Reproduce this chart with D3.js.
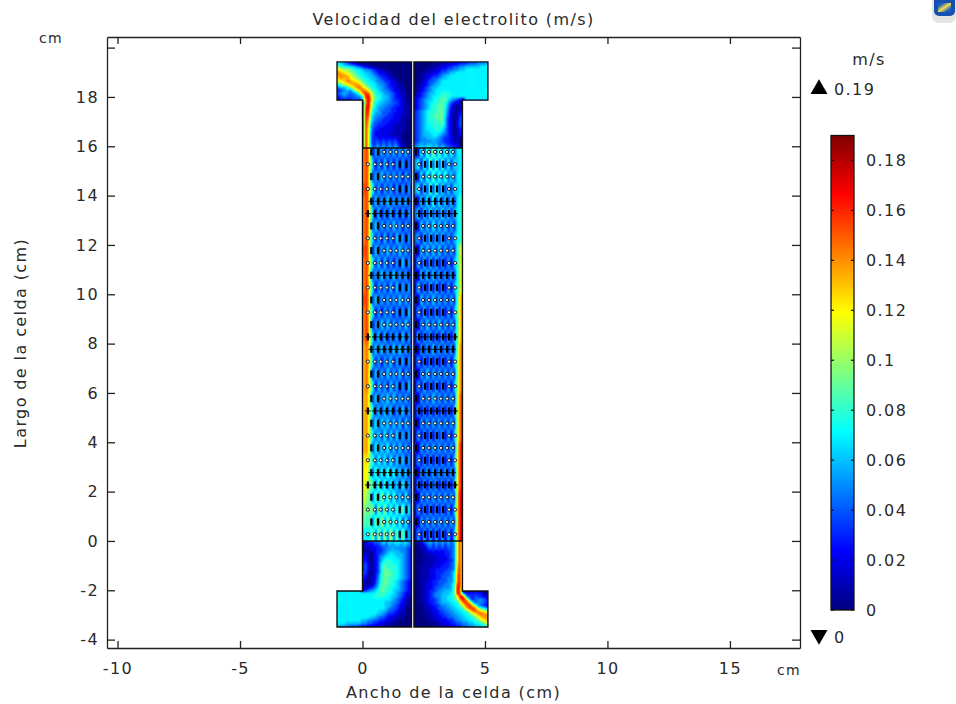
<!DOCTYPE html>
<html>
<head>
<meta charset="utf-8">
<script src="https://cdn.jsdelivr.net/npm/d3@7"></script>
<style>
  html, body { margin: 0; padding: 0; background: #fff; }
  svg { display: block; }
  text { font-family: "DejaVu Sans", sans-serif; fill: #2a2a2a; }
</style>
</head>
<body>
<div id="chart"></div>
<script>
// velocity cells: one char per cell, base 20, in hundredths of m/s
const topLeftField = [
  '76543 21000 00000 00000 00000',
  '98776 65432 11000 00000 00000',
  'cbaa9 87765 54321 10000 00000',
  'edcba 98776 65432 21100 00000',
  'eeedc a9877 66543 32110 00000',
  'dedec ba987 76654 33211 00000',
  'bcdee dcb98 77655 43321 10000',
  '89bcd eedb9 87765 54322 11000',
  '5668a cefdb 98766 54332 11000',
  '34565 8bdfe c9876 55432 21100',
  '45654 569eg fb977 65543 21100',
  '34544 4558g hc987 66543 22100',
  '23333 4446e hd987 66543 32100',
  '00000 0000e hc876 65544 32110',
  '00000 0000f hb866 55443 32110',
  '00000 0000g ha765 54433 22110',
  '00000 0000g g9665 44433 22110',
  '00000 0000g g8655 44332 22110',
  '00000 0000g f7554 43332 21110',
  '00000 0000g e7544 33322 21100',
  '00000 0000g d6443 33222 11100',
  '00000 0000g d5433 32221 11100',
  '00000 0000g c5332 22221 11100',
  '00000 0000g c4322 22211 11000',
  '00000 0000g c4322 22211 11000',
  '00000 0000g c4332 32323 11000',
  '00000 0000g c4343 43434 21000',
  '00000 0000g c4353 53535 31100',
  '00000 0000g c5464 64646 42100'
];

const topRightField = [
  '00000 00011 11222 33344 45556',
  '00000 01112 23344 55666 66777',
  '00001 11223 34455 66777 77777',
  '00011 12234 45667 77777 77777',
  '00112 23345 66777 77777 77777',
  '00112 34456 67777 77777 77777',
  '00123 44567 77777 77777 77777',
  '01123 45667 77777 77777 77777',
  '01234 56677 77777 77777 77777',
  '01234 56777 77777 77777 77778',
  '12345 66778 88777 77777 77777',
  '12345 67788 88777 77777 77777',
  '23456 67889 97654 32777 77777',
  '23456 77889 86432 11000 00000',
  '23456 78899 85311 12000 00000',
  '23456 78899 75210 12000 00000',
  '34567 88899 74211 23000 00000',
  '34567 88999 74201 33000 00000',
  '34567 88999 63201 43000 00000',
  '34567 88899 63202 42000 00000',
  '34567 88889 63202 43000 00000',
  '34567 78888 63202 42000 00000',
  '34567 77887 53201 32000 00000',
  '34566 77776 53201 31000 00000',
  '34566 67765 43201 21000 00000',
  '34556 66654 33211 10000 00000',
  '34555 56554 33211 00000 00000',
  '45656 65645 43322 00000 00000',
  '56767 76757 54433 10000 00000'
];

const bottomLeftField = [
  '00000 00001 33445 75767 76765',
  '00000 00002 22334 54656 65654',
  '00000 00001 12233 45565 55543',
  '00000 00001 11233 45666 65543',
  '00000 00012 10234 56776 66543',
  '00000 00013 10235 67777 66543',
  '00000 00023 10235 78877 76543',
  '00000 00024 20236 88887 76543',
  '00000 00034 20236 98888 76543',
  '00000 00024 20236 99888 76543',
  '00000 00034 10236 99988 76543',
  '00000 00033 10247 99988 76543',
  '00000 00032 11247 99888 76543',
  '00000 00021 01257 99887 65432',
  '00000 00021 11358 99887 65432',
  '00000 00011 23468 98877 65432',
  '77777 77723 45679 98876 65432',
  '77777 77777 77788 88776 54321',
  '77777 77777 77888 87766 54321',
  '87777 77777 77777 77765 43210',
  '77777 77777 77777 76655 43210',
  '77777 77777 77777 76654 32110',
  '77777 77777 77777 76544 32100',
  '77777 77777 77776 65443 21100',
  '77777 77777 77766 54332 21100',
  '77777 77777 76654 43221 11000',
  '77777 77766 55443 32211 10000',
  '77766 66655 44332 21110 00000',
  '65554 44333 22211 11000 00000'
];

const bottomRightField = [
  '01245 64646 4646c g0000 00000',
  '00124 53535 3545c g0000 00000',
  '00113 43434 3445c g0000 00000',
  '00112 23232 3345c g0000 00000',
  '00011 12222 3345c g0000 00000',
  '00011 11222 2345c g0000 00000',
  '00011 11222 2335c g0000 00000',
  '00011 11222 3345d g0000 00000',
  '00111 12223 3345d g0000 00000',
  '00111 22333 3445e g0000 00000',
  '00111 22333 4457e g0000 00000',
  '00111 22334 4457f g0000 00000',
  '00111 22334 4557f g0000 00000',
  '00112 23344 4557f g0000 00000',
  '00112 23344 5568g g0000 00000',
  '00112 23445 5568h f0000 00000',
  '00112 33455 6669h e0000 00000',
  '00112 34556 6678h f4333 33300',
  '00112 34556 6779c hg533 43322',
  '00112 33456 6778a fhe63 45543',
  '00112 33456 66778 bfge7 45543',
  '00011 23345 56677 9cfge 95432',
  '00011 22344 55667 79dfg fb875',
  '00011 12234 45566 778be fedcb',
  '00001 12233 44556 6778a cefee',
  '00001 11223 34455 66778 9bdee',
  '00000 11122 23345 56677 89bce',
  '00000 00112 22334 45566 7789c',
  '00000 00011 11223 34455 66778'
];

// chamber with the pins, one row of cells per row of pins
const meshLeftField = [
  'egb 26363 63636 3636',
  'egb 62627 26262 6252',
  'ega 36373 63636 2636',
  'fgb 73626 36262 6262',
  'egb 27363 73636 3636',
  'egb 62726 27262 6262',
  'egb 37363 63736 2636',
  'ega 63627 26273 6262',
  'fgb 27363 73637 3636',
  'egb 73727 26262 7262',
  'ega 36373 63736 3626',
  'egb 62636 27272 6362',
  'fgb 37363 63637 3637',
  'ega 72626 36262 6272',
  'egb 26373 73636 3736',
  'egb 63727 26362 7262',
  'dfb 37373 63737 3636',
  'dfb 63626 37263 6262',
  'dfa 27363 73637 2636',
  'dfb 72736 27362 6272',
  'dea 37364 73736 3636',
  'dea 73737 37263 7262',
  'dea 38374 73737 2736',
  'dea 74738 37373 6362',
  'dea 38474 83737 3636',
  'cd9 84848 38373 7262',
  'cc9 49484 94847 3736',
  'cb9 94a49 48473 8362',
  'ba9 4a4b4 a4947 3836',
  'a99 a3b4b 49494 a382',
  '989 4b4c4 b4a49 3836',
  '777 a4b4b 4c4a4 a464'
];

const meshRightField = [
  '328 3a4b4 a4948 4777',
  '582 93b3b 39383 7677',
  '428 394a4 94947 4777',
  '582 83a3a 38373 7677',
  '327 38393 83737 3789',
  '472 73837 38373 6789',
  '327 37383 73736 3789',
  '462 73737 37363 6789',
  '317 37373 73636 38bc',
  '272 72727 26262 68bc',
  '317 37373 63636 38bc',
  '272 62727 26262 68bc',
  '317 36373 63636 39de',
  '262 72627 26262 69de',
  '316 37363 73636 39de',
  '272 63626 27262 69de',
  '316 36373 63636 3aef',
  '262 62626 26262 6aef',
  '316 37363 63636 3aef',
  '262 72627 26262 6aef',
  '316 36373 63636 3bfg',
  '262 62626 26262 6bfg',
  '316 36363 63636 3bfg',
  '262 62626 36262 6bfg',
  '316 36363 63636 3cgh',
  '262 62626 26262 6cgh',
  '316 36363 63636 3cgh',
  '262 62636 26262 6cgh',
  '316 36363 63636 3dhi',
  '262 62626 26262 6dhi',
  '316 36363 63636 3dhi',
  '262 62626 26262 6dhi'
];

// pins, in cm. rows alternate between the two sets of columns
const pinRows = [15.77, 15.27, 14.77, 14.27, 13.77, 13.27, 12.77, 12.27, 11.77, 11.27, 10.77, 10.27,
  9.77, 9.27, 8.77, 8.27, 7.77, 7.27, 6.77, 6.27, 5.77, 5.27, 4.77, 4.27, 3.77, 3.27, 2.77, 2.27,
  1.77, 1.27, 0.77, 0.27];
const pinsLeftEven = [0.36, 0.63, 0.88, 1.14, 1.38, 1.63, 1.86];
const pinsLeftOdd = [0.22, 0.50, 0.74, 0.99, 1.24, 1.52, 1.79];
const pinsRightEven = [2.18, 2.47, 2.71, 2.96, 3.20, 3.45, 3.69];
const pinsRightOdd = [2.31, 2.55, 2.80, 3.04, 3.29, 3.53, 3.78];

const pinMarksLeft = [
  '||ooooo', 'ooooo||', '||ooooo', 'ooooo||', '+++++++', '+++++++', '||ooooo', 'ooooo||',
  '||ooooo', 'ooooo||', '+++++++', 'ooooo||', '||ooooo', 'ooooo||', '||ooooo', '+++++++',
  '+++++++', 'ooooo||', '||ooooo', 'ooooo||', '||ooooo', '+++++++', '||ooooo', 'ooooo||',
  '||ooooo', 'ooooo||', '+++++++', '+++++++', '||ooooo', 'ooooo||', '||ooooo', 'ooooo||'
];
const pinMarksRight = [
  '|oooooo', 'o||||oo', '|oooooo', 'o||||oo', '+++++++', '+++++++', '|oooooo', 'o||||oo',
  '|oooooo', 'o||||oo', '+++++++', 'o||||oo', '|oooooo', 'o||||oo', '|oooooo', '+++++++',
  '+++++++', 'o||||oo', '|oooooo', 'o||||oo', '|oooooo', '+++++++', '|oooooo', 'o||||oo',
  '|oooooo', 'o||||oo', '+++++++', '+++++++', '|oooooo', 'o||||oo', '|oooooo', 'o||||oo'
];

// cell outline, in cm
const outlineLeft = [[-1.04, 19.42], [2, 19.42], [2, -3.49], [-1.04, -3.49], [-1.04, -2.03], [0, -2.03],
  [0, 17.87], [-1.04, 17.87]];
const outlineRight = [[2.1, 19.42], [5.12, 19.42], [5.12, 17.87], [4.08, 17.87], [4.08, -2.03], [5.12, -2.03],
  [5.12, -3.49], [2.1, -3.49]];
const chamberTop = 15.93;
const chamberBottom = 0;

const xTicks = [-10, -5, 0, 5, 10, 15];
const yTicks = [-4, -2, 0, 2, 4, 6, 8, 10, 12, 14, 16, 18, 20];
const colorTicks = [0, 0.02, 0.04, 0.06, 0.08, 0.1, 0.12, 0.14, 0.16, 0.18];
const colorMin = 0;
const colorMax = 0.19;
const jetStops = [0, 0.0238, 0.0715, 0.119, 0.1665, 0.19];
const jetColors = ['#00007f', '#0000ff', '#00ffff', '#ffff00', '#ff0000', '#7f0000'];

const w = 956;
const h = 704;
const frame = { top: 37, bottom: 648, left: 107, right: 800 };
const cellW = 0.1224;
const cellH = 0.1216;

const xScale = d3.scaleLinear().domain([-10.43, 17.86]).range([frame.left, frame.right]);
const yScale = d3.scaleLinear().domain([-4.34, 20.43]).range([frame.bottom, frame.top]);
const colorScale = d3.scaleLinear().domain(jetStops).range(jetColors);
const barScale = d3.scaleLinear().domain([colorMin, colorMax]).range([610, 135.5]);
const grayScale = d3.scaleLinear().domain([colorMin, colorMax]).range(['#000', '#fff']);

const svg = d3.select('#chart').append('svg').attr('width', w).attr('height', h);
const defs = svg.append('defs');

// cells are drawn as gray levels, blurred, then looked up in the colour map,
// so neighbouring cells blend through the map and not to gray
const lookup = d3.range(0, 129).map(k => d3.rgb(colorScale(k / 128 * colorMax)));

function addFieldFilter(id, blur) {
  const f = defs.append('filter').attr('id', id).
  attr('x', '-5%').attr('y', '-5%').attr('width', '110%').attr('height', '110%').
  attr('color-interpolation-filters', 'sRGB');
  f.append('feGaussianBlur').attr('in', 'SourceGraphic').attr('stdDeviation', blur).attr('result', 'b');
  const merge = f.append('feMerge').attr('result', 'm');
  merge.append('feMergeNode').attr('in', 'SourceGraphic');
  merge.append('feMergeNode').attr('in', 'b');
  const table = f.append('feComponentTransfer').attr('in', 'm');
  table.append('feFuncR').attr('type', 'table').attr('tableValues', lookup.map(c => c.r / 255).join(' '));
  table.append('feFuncG').attr('type', 'table').attr('tableValues', lookup.map(c => c.g / 255).join(' '));
  table.append('feFuncB').attr('type', 'table').attr('tableValues', lookup.map(c => c.b / 255).join(' '));
}

addFieldFilter('soft', '1.1');
addFieldFilter('soft-mesh', '0.8 2.2');

defs.append('filter').attr('id', 'softer').
attr('x', '-5%').attr('y', '-5%').attr('width', '110%').attr('height', '110%').
append('feGaussianBlur').attr('stdDeviation', 0.45);

const toPath = d3.line().x(d => xScale(d[0])).y(d => yScale(d[1]));

function addClip(id, pts) {
  defs.append('clipPath').attr('id', id).append('path').attr('d', toPath(pts) + 'Z');
}

addClip('clip-left', outlineLeft);
addClip('clip-right', outlineRight);
addClip('clip-mesh-left', [[0, chamberTop], [2, chamberTop], [2, chamberBottom], [0, chamberBottom]]);
addClip('clip-mesh-right', [[2.1, chamberTop], [4.08, chamberTop], [4.08, chamberBottom], [2.1, chamberBottom]]);

function cellsOf(rows) {
  const cells = [];
  rows.forEach(function (row, j) {
    row.replace(/ /g, '').split('').forEach(function (c, i) {
      cells.push({ i: i, j: j, v: parseInt(c, 20) / 100 });
    });
  });
  return cells;
}

function drawField(clipId, filterId, rows, x0, y0, dx, dy) {
  const g = svg.append('g').attr('clip-path', 'url(#' + clipId + ')').
  append('g').attr('filter', 'url(#' + filterId + ')');
  g.selectAll('rect').
  data(cellsOf(rows)).
  enter().
  append('rect').
  attr('x', d => xScale(x0 + d.i * dx)).
  attr('y', d => yScale(y0 - d.j * dy)).
  attr('width', xScale(dx) - xScale(0) + 0.6).
  attr('height', yScale(0) - yScale(dy) + 0.6).
  attr('fill', d => grayScale(d.v));
}

drawField('clip-left', 'soft', topLeftField, -1.04, 19.42, cellW, cellH);
drawField('clip-right', 'soft', topRightField, 2.1, 19.42, cellW, cellH);
drawField('clip-left', 'soft', bottomLeftField, -1.04, 0, cellW, cellH);
drawField('clip-right', 'soft', bottomRightField, 2.1, 0, cellW, cellH);
drawField('clip-mesh-left', 'soft-mesh', meshLeftField, 0, 16.02, cellW, 0.5);
drawField('clip-mesh-right', 'soft-mesh', meshRightField, 2.1, 16.02, cellW, 0.5);

// pins
function drawPins(marks, evenCols, oddCols) {
  const pins = [];
  marks.forEach(function (row, r) {
    const cols = r % 2 === 0 ? evenCols : oddCols;
    row.split('').forEach(function (m, k) {
      pins.push({ m: m, x: xScale(cols[k]), y: yScale(pinRows[r]) });
    });
  });
  const g = svg.append('g').attr('filter', 'url(#softer)');
  g.selectAll('rect.bar').
  data(pins.filter(d => d.m !== 'o')).
  enter().
  append('rect').
  attr('class', 'bar').
  attr('x', d => d.x - 1.1).
  attr('y', d => d.y - 3.5).
  attr('width', 2.2).
  attr('height', 7).
  attr('fill', '#000');
  g.selectAll('rect.cross').
  data(pins.filter(d => d.m === '+')).
  enter().
  append('rect').
  attr('class', 'cross').
  attr('x', d => d.x - 2.8).
  attr('y', d => d.y - 0.5).
  attr('width', 5.6).
  attr('height', 1).
  attr('fill', '#000');
  g.selectAll('circle').
  data(pins.filter(d => d.m === 'o')).
  enter().
  append('circle').
  attr('cx', d => d.x).
  attr('cy', d => d.y).
  attr('r', 1.6).
  attr('fill', '#f0f0f0').
  attr('stroke', '#111').
  attr('stroke-width', 0.9);
}

drawPins(pinMarksLeft, pinsLeftEven, pinsLeftOdd);
drawPins(pinMarksRight, pinsRightEven, pinsRightOdd);

// outlines
svg.append('path').attr('d', toPath(outlineLeft) + 'Z').
attr('fill', 'none').attr('stroke', '#111').attr('stroke-width', 1.4);
svg.append('path').attr('d', toPath(outlineRight) + 'Z').
attr('fill', 'none').attr('stroke', '#111').attr('stroke-width', 1.4);
[chamberTop, chamberBottom].forEach(function (yy) {
  svg.append('path').attr('d', toPath([[0, yy], [2, yy]])).attr('stroke', '#111').attr('stroke-width', 1.4);
  svg.append('path').attr('d', toPath([[2.1, yy], [4.08, yy]])).attr('stroke', '#111').attr('stroke-width', 1.4);
});

// axes
const labelFont = 16;
const tracking = '1.4px';

const xAxisBottom = d3.axisBottom(xScale).tickValues(xTicks).tickSizeInner(-7).tickSizeOuter(0).
tickPadding(15).tickFormat(d => String(d));
const xAxisTop = d3.axisTop(xScale).tickValues(xTicks).tickSizeInner(-7).tickSizeOuter(0).tickFormat('');
const yAxisLeft = d3.axisLeft(yScale).tickValues(yTicks).tickSizeInner(-8).tickSizeOuter(0).
tickPadding(8).tickFormat(d => d === 20 ? '' : String(d));
const yAxisRight = d3.axisRight(yScale).tickValues(yTicks).tickSizeInner(-8).tickSizeOuter(0).tickFormat('');

[
  [xAxisBottom, 0, frame.bottom],
  [xAxisTop, 0, frame.top],
  [yAxisLeft, frame.left, 0],
  [yAxisRight, frame.right, 0]
].forEach(function (a) {
  const g = svg.append('g').
  attr('transform', 'translate(' + a[1] + ',' + a[2] + ')').
  call(a[0]);
  g.selectAll('path,line').attr('stroke', '#222').attr('stroke-width', 1.3);
  g.selectAll('text').attr('font-family', null).style('font-size', labelFont + 'px').style('letter-spacing', tracking).attr('fill', null);
});

function addText(str, x, y, anchor, size) {
  return svg.append('text').
  attr('x', x).attr('y', y).
  attr('text-anchor', anchor).
  style('font-size', (size || labelFont) + 'px').
  style('letter-spacing', tracking).
  text(str);
}

addText('Velocidad del electrolito (m/s)', 453.5, 25, 'middle');
addText('Ancho de la celda (cm)', 453.5, 698, 'middle');
addText('Largo de la celda (cm)', 0, 0, 'middle').
attr('x', null).attr('y', null).
attr('transform', 'translate(26,343) rotate(-90)');
addText('cm', 51, 43, 'middle', 14);
addText('cm', 789, 675, 'middle', 14);
addText('m/s', 869, 65, 'middle');

// colour bar
const gradient = defs.append('linearGradient').attr('id', 'jet').
attr('x1', 0).attr('x2', 0).attr('y1', 1).attr('y2', 0);
jetStops.forEach(function (s, i) {
  gradient.append('stop').attr('offset', s / colorMax).attr('stop-color', jetColors[i]);
});

const barLeft = 831;
const barRight = 854;
svg.append('rect').
attr('x', barLeft).attr('y', barScale(colorMax)).
attr('width', barRight - barLeft).attr('height', barScale(colorMin) - barScale(colorMax)).
attr('fill', 'url(#jet)').attr('stroke', '#111').attr('stroke-width', 1.3);

svg.selectAll('line.bar-tick').
data(colorTicks.concat(colorTicks)).
enter().
append('line').
attr('class', 'bar-tick').
attr('x1', (d, i) => i < colorTicks.length ? barLeft : barRight - 3).
attr('x2', (d, i) => i < colorTicks.length ? barLeft + 3 : barRight).
attr('y1', d => barScale(d)).
attr('y2', d => barScale(d)).
attr('stroke', '#111').
attr('stroke-width', 1.2);

svg.selectAll('text.bar-label').
data(colorTicks).
enter().
append('text').
attr('class', 'bar-label').
attr('x', 866).
attr('y', d => barScale(d) + 6).
style('font-size', labelFont + 'px').
style('letter-spacing', tracking).
text(d => String(d));

// max and min markers
svg.append('path').
attr('d', d3.symbol(d3.symbolTriangle, 125)).
attr('transform', 'translate(819,89)').
attr('fill', '#000');
svg.append('path').
attr('d', d3.symbol(d3.symbolTriangle, 125)).
attr('transform', 'translate(819,635) rotate(180)').
attr('fill', '#000');
addText(String(colorMax), 834, 95, 'start');
addText(String(colorMin), 834, 643, 'start');

// window icon in the corner
const iconGrad = defs.append('linearGradient').attr('id', 'icon-fill').
attr('x1', 0).attr('x2', 1).attr('y1', 0).attr('y2', 1);
iconGrad.append('stop').attr('offset', 0.2).attr('stop-color', '#1d5fc0');
iconGrad.append('stop').attr('offset', 0.5).attr('stop-color', '#f4e04a');
iconGrad.append('stop').attr('offset', 0.8).attr('stop-color', '#1d5fc0');
svg.append('rect').attr('x', 932).attr('y', -6).attr('width', 24).attr('height', 29).attr('rx', 7).attr('fill', '#e4e4e4');
svg.append('rect').attr('x', 934).attr('y', -6).attr('width', 21).attr('height', 22).attr('rx', 5).attr('fill', '#1550b0');
svg.append('rect').attr('x', 938).attr('y', 3).attr('width', 13).attr('height', 9).attr('fill', 'url(#icon-fill)');
</script>
</body>
</html>
